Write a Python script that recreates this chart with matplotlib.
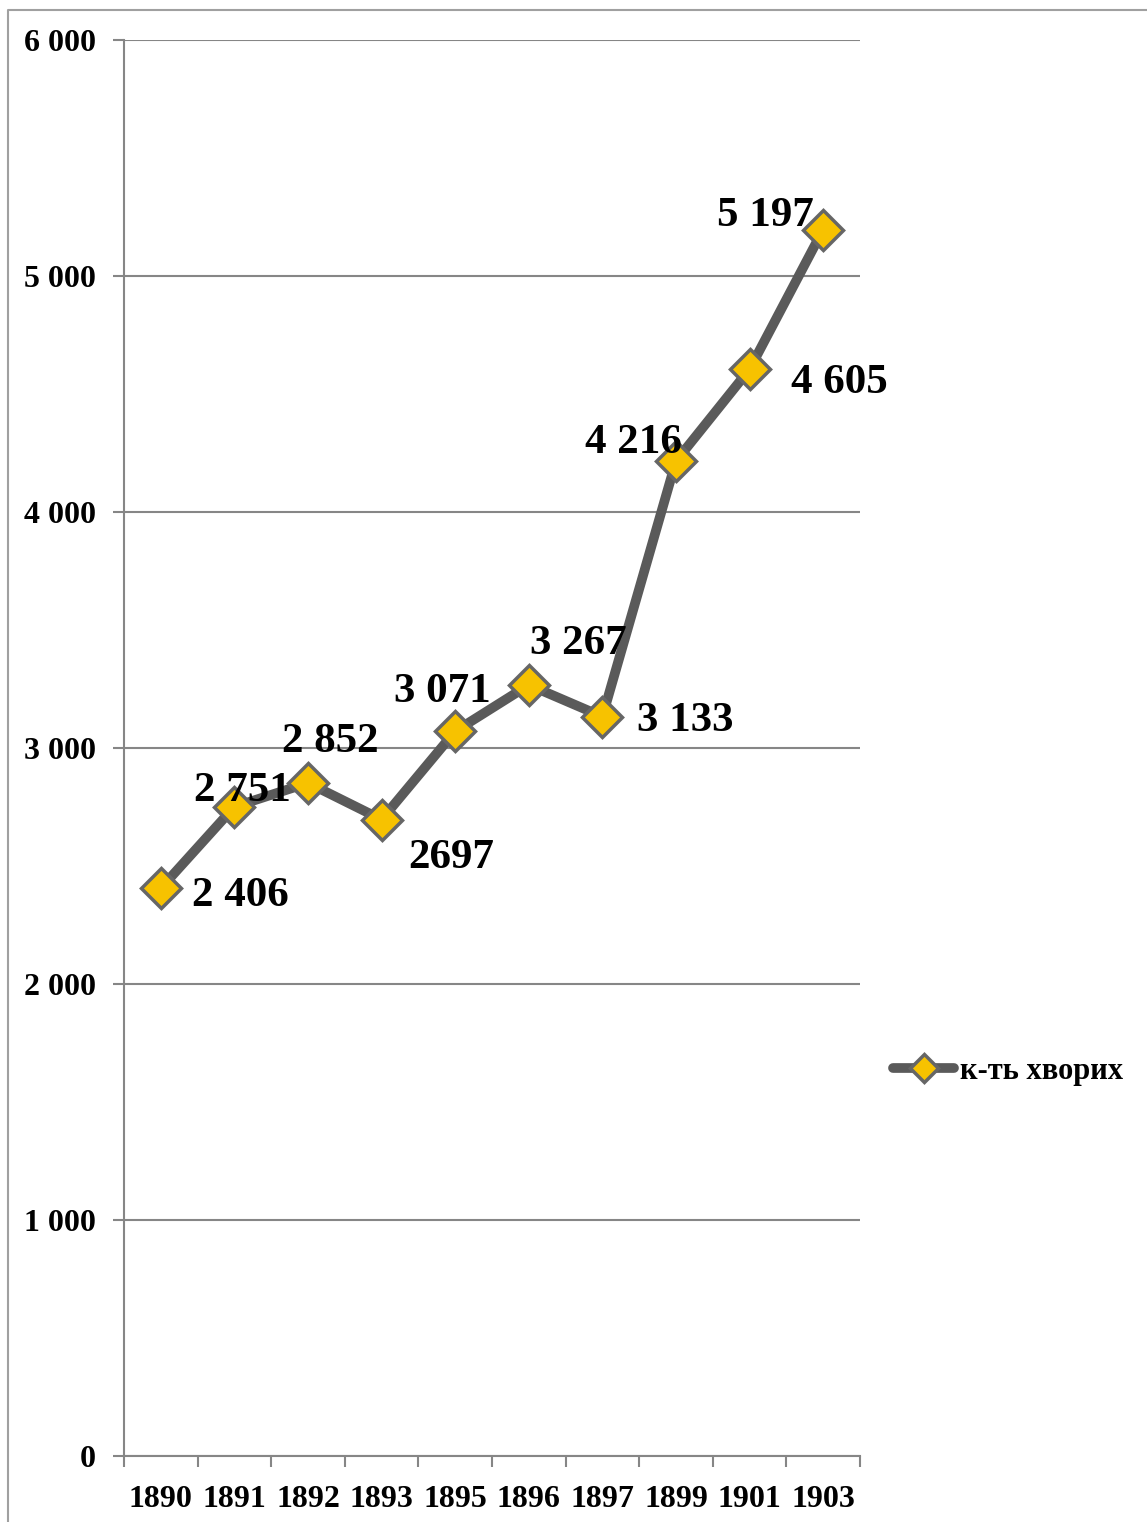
import numpy as np
import matplotlib
matplotlib.use('Agg')
import matplotlib.pyplot as plt
from matplotlib.lines import Line2D

plt.rcParams['font.family'] = ['Liberation Serif', 'DejaVu Serif']
plt.rcParams['font.weight'] = 'bold'

## Data
years = ['1890', '1891', '1892', '1893', '1895', '1896', '1897', '1899', '1901', '1903']
patients = [2406, 2751, 2852, 2697, 3071, 3267, 3133, 4216, 4605, 5197]
point_labels = ['2 406', '2 751', '2 852', '2697', '3 071', '3 267', '3 133', '4 216', '4 605', '5 197']
# label offsets in pixels (dx, dy)
label_offsets = [(80, -8), (8, 16), (22, 41), (70, -38), (-13, 39),
                 (50, 41), (83, -4), (-43, 18), (90, -14), (-58, 14)]
y_ticks = [0, 1000, 2000, 3000, 4000, 5000, 6000]
y_tick_labels = ['0', '1 000', '2 000', '3 000', '4 000', '5 000', '6 000']

grid_col = '#868686'

fig = plt.figure(figsize=(11.47, 15.22), dpi=100)
ax = fig.add_axes([124 / 1147, 66 / 1522, 736 / 1147, 1416 / 1522])

x = np.arange(len(years))
ax.plot(x, patients, color='#5a5a5a', lw=7, marker='D', ms=20,
        mfc='#F7C200', mec='#666666', mew=2.5, label='к-ть хворих',
        solid_capstyle='round', zorder=3)

for xi, v, lab, (dx, dy) in zip(x, patients, point_labels, label_offsets):
    ax.annotate(lab, (xi, v), xytext=(dx, dy), textcoords='offset pixels',
                ha='center', va='center', fontsize=31, fontweight='bold',
                zorder=4)

ax.set_xlim(-0.5, len(years) - 0.5)
ax.set_ylim(0, 6000)
ax.set_yticks(y_ticks)
ax.set_yticklabels(y_tick_labels, fontsize=23, fontweight='bold')
ax.set_xticks(x)
ax.set_xticklabels(years, fontsize=23, fontweight='bold')
ax.set_xticks(np.arange(-0.5, len(years)), minor=True)
ax.tick_params(axis='x', which='major', length=0, pad=21)
ax.tick_params(axis='x', which='minor', length=8, width=1.5, color=grid_col)
ax.tick_params(axis='y', which='major', length=8, width=1.5, color=grid_col, pad=12)
ax.yaxis.grid(True, color=grid_col, lw=1.5)
ax.set_axisbelow(True)
for s in ['top', 'right']:
    ax.spines[s].set_visible(False)
for s in ['left', 'bottom']:
    ax.spines[s].set_color(grid_col)
    ax.spines[s].set_linewidth(1.5)

ax.legend(loc='center left', bbox_to_anchor=(878 / 1147, 1 - 1071 / 1522),
          bbox_transform=fig.transFigure, frameon=False,
          handlelength=2.0, handletextpad=0.2, markerscale=0.7, borderpad=0,
          prop={'weight': 'bold', 'size': 22})

# outer frame (left and top edges)
fig.add_artist(Line2D([8 / 1147, 8 / 1147, 1.0], [0.0, 1 - 10 / 1522, 1 - 10 / 1522],
                      transform=fig.transFigure, color='#a0a0a0', lw=1.5))

fig.savefig('out.png', dpi=100)
